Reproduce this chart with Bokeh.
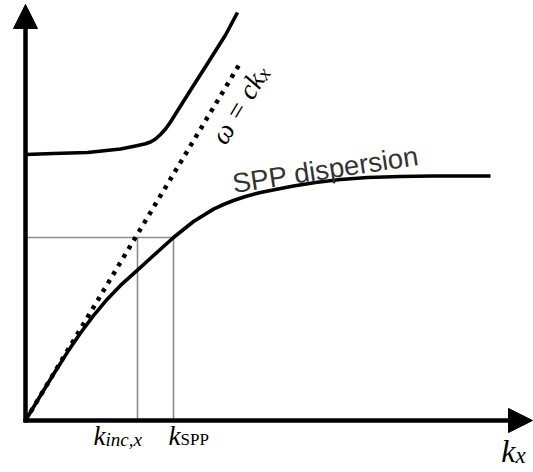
from bokeh.plotting import figure
from bokeh.models import Range1d, Arrow, NormalHead, Label
from bokeh.embed import file_html
from bokeh.resources import INLINE

# Surface plasmon polariton dispersion, arbitrary units (k_x, omega)
spp_k = [0.00, 0.15, 0.28, 0.42, 0.55, 0.68, 0.82, 0.95, 1.12, 1.28, 1.48,
         1.68, 1.88, 1.98, 2.08, 2.20, 2.35, 2.50, 2.68, 2.90, 3.15, 3.42,
         3.75, 4.08, 4.65]
spp_w = [0.00, 0.25, 0.463, 0.684, 0.875, 1.049, 1.216, 1.351, 1.504, 1.65, 1.83,
         1.99, 2.114, 2.16, 2.20, 2.24, 2.28, 2.31, 2.345, 2.38, 2.41, 2.43,
         2.44, 2.445, 2.445]

# upper (bulk) branch
upper_k = [0.00, 0.28, 0.62, 0.95, 1.10, 1.20, 1.25, 1.30, 1.35, 1.40, 1.45,
           1.50, 1.667, 1.833, 2.00, 2.12]
upper_w = [2.66, 2.67, 2.68, 2.715, 2.745, 2.767, 2.785, 2.815, 2.86, 2.915, 2.985,
           3.065, 3.33, 3.59, 3.855, 4.08]

# light line omega = c k_x
light_k = [0.0, 2.15]
light_w = [0.0, 3.58]

# excitation frequency and the two wavevectors
k_inc = 1.12
k_spp = 1.48
omega_0 = 1.83

# axis extents
k_max = 5.07
w_max = 4.16

p = figure(width=533, height=472, output_backend="svg", toolbar_location=None,
           x_range=Range1d(-0.25, 5.08), y_range=Range1d(-0.52, 4.20),
           x_axis_location=None, y_axis_location=None, min_border=0)
p.grid.visible = False
p.outline_line_color = None
p.background_fill_color = "white"
p.border_fill_color = "white"

gray = "#8c8c8c"
# guide lines at omega_0
p.line([0, k_spp], [omega_0, omega_0], line_color=gray, line_width=1.6)
p.line([k_inc, k_inc], [0, omega_0], line_color=gray, line_width=1.6)
p.line([k_spp, k_spp], [0, omega_0], line_color=gray, line_width=1.6)

# dispersion curves
p.line(light_k, light_w, line_color="black", line_width=4.5, line_dash="4 6")
p.line(spp_k, spp_w, line_color="black", line_width=3.6, line_join="round")
p.line(upper_k, upper_w, line_color="black", line_width=3.6, line_join="round")

# axes with arrow heads
p.add_layout(Arrow(end=NormalHead(size=24, fill_color="black", line_color="black"),
                   x_start=0, y_start=-0.02, x_end=0, y_end=w_max,
                   line_width=4.5, line_color="black"))
p.add_layout(Arrow(end=NormalHead(size=24, fill_color="black", line_color="black"),
                   x_start=-0.02, y_start=0, x_end=k_max, y_end=0,
                   line_width=4.5, line_color="black"))

serif = "Liberation Serif"

def math_label(x, y, main, sub, size, sub_size, sub_drop, sub_style="italic",
               angle=0.0):
    p.add_layout(Label(x=x, y=y, text=main, text_font=serif,
                       text_font_style="italic", text_font_size=f"{size}px",
                       text_align="right", text_baseline="alphabetic",
                       angle=angle, angle_units="deg", text_color="black"))
    p.add_layout(Label(x=x + sub_drop[0], y=y + sub_drop[1], text=sub,
                       text_font=serif, text_font_style=sub_style,
                       text_font_size=f"{sub_size}px", text_align="left",
                       text_baseline="alphabetic", angle=angle,
                       angle_units="deg", text_color="black"))

math_label(0.80, -0.15, "k", "inc,x", 27, 19, (0, -0.035))
math_label(1.55, -0.15, "k", "SPP", 27, 17, (0, -0.035), sub_style="normal")
math_label(4.90, -0.30, "k", "x", 32, 23, (0, -0.05))
math_label(2.32, 3.455, "ω = ck", "x", 28, 20, (0.034, -0.021), angle=59)

p.add_layout(Label(x=2.07, y=2.37, text="SPP dispersion",
                   text_font="Liberation Sans", text_font_size="27.5px",
                   text_color="#333333", angle=8.6, angle_units="deg",
                   text_align="left", text_baseline="alphabetic"))

open("out.html", "w").write(file_html(p, INLINE))
